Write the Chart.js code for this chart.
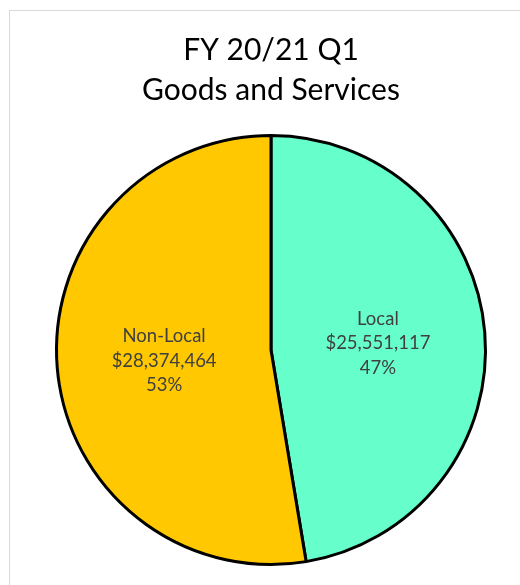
<!DOCTYPE html>
<html>
<head>
<meta charset="utf-8">
<script src="https://cdn.jsdelivr.net/npm/chart.js@4"></script>
<style>
    html, body { margin: 0; padding: 0; background: #fff; }
    canvas { display: block; }
</style>
</head>
<body>
<canvas id="chart" width="520" height="585"></canvas>
<script>
const titleLines = ['FY 20/21 Q1', 'Goods and Services'];
const categories = ['Local', 'Non-Local'];
const amounts = [25551117, 28374464];
const sliceColors = ['#66FFCC', '#FFC800'];

const total = amounts.reduce((a, b) => a + b, 0);

const frameAndLabels = {
    id: 'frameAndLabels',
    beforeDraw(chart) {
        const ctx = chart.ctx;
        ctx.save();
        ctx.fillStyle = '#fff';
        ctx.fillRect(0, 0, chart.width, chart.height);
        ctx.strokeStyle = '#d9d9d9';
        ctx.lineWidth = 1;
        ctx.strokeRect(9.5, 10.5, 700, 700);

        ctx.fillStyle = '#000';
        ctx.font = '30px Lato';
        ctx.textAlign = 'center';
        ctx.textBaseline = 'alphabetic';
        ctx.fillText(titleLines[0], 271, 60);
        ctx.fillText(titleLines[1], 271, 100);
        ctx.restore();
    },
    afterDatasetsDraw(chart) {
        const ctx = chart.ctx;
        const meta = chart.getDatasetMeta(0);
        ctx.save();
        ctx.fillStyle = '#404040';
        ctx.font = '18.5px Lato';
        ctx.textAlign = 'center';
        ctx.textBaseline = 'middle';
        meta.data.forEach((arc, i) => {
            const {x, y} = arc.getCenterPoint();
            const value = amounts[i];
            const pct = Math.round(value / total * 100) + '%';
            const lines = [categories[i], '$' + value.toLocaleString('en-US'), pct];
            lines.forEach((line, j) => {
                ctx.fillText(line, x, y + 2 + (j - 1) * 24.5);
            });
        });
        ctx.restore();
    }
};

new Chart(document.getElementById('chart').getContext('2d'), {
    type: 'pie',
    data: {
        labels: categories,
        datasets: [{
            data: amounts,
            backgroundColor: sliceColors,
            borderColor: '#000',
            borderWidth: 3
        }]
    },
    plugins: [frameAndLabels],
    options: {
        responsive: false,
        animation: false,
        layout: {
            padding: {left: 55, right: 33, top: 134, bottom: 19}
        },
        plugins: {
            legend: {display: false},
            title: {display: false},
            tooltip: {enabled: false}
        }
    }
});
</script>
</body>
</html>
